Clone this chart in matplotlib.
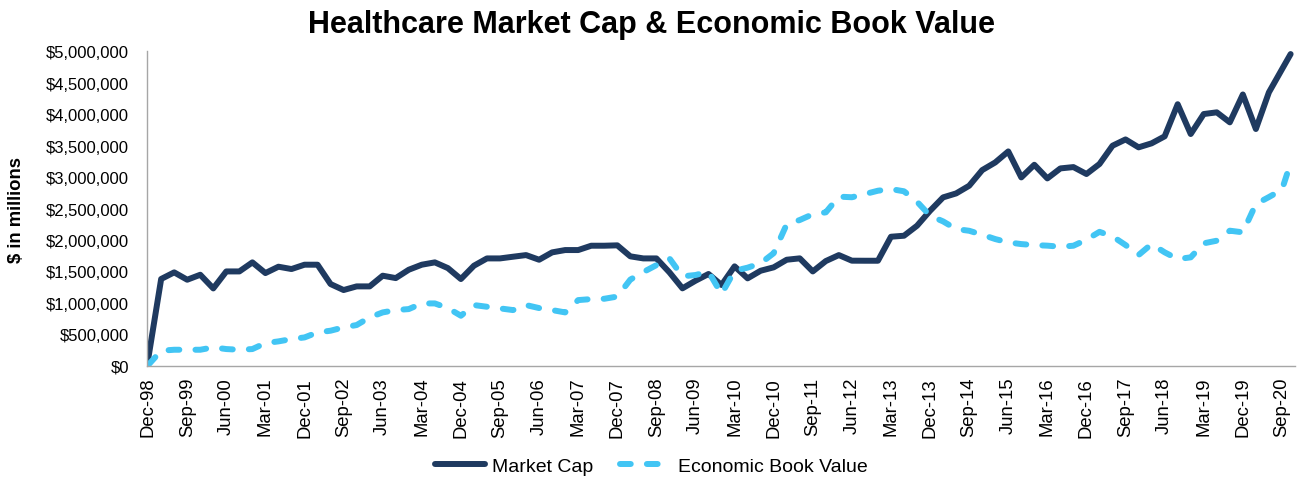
import matplotlib
matplotlib.use('Agg')
import matplotlib.pyplot as plt
from matplotlib.ticker import FuncFormatter

plt.rcParams['font.family'] = ['Liberation Sans', 'DejaVu Sans']

# $ in millions, quarterly from Dec-98 to Sep-20, plus the latest point (Nov-20)
market_cap = [100000, 1380000, 1485000, 1368000, 1447000, 1230000, 1500000, 1500000, 1644000, 1474000,
              1575000, 1538000, 1607000, 1607000, 1299000, 1204000, 1262000, 1262000, 1432000, 1394000,
              1527000, 1607000, 1644000, 1553000, 1379000, 1591000, 1707000, 1707000, 1734000, 1760000,
              1686000, 1803000, 1840000, 1840000, 1909000, 1909000, 1915000, 1740000, 1707000, 1707000,
              1486000, 1231000, 1352000, 1459000, 1284000, 1581000, 1390000, 1511000, 1565000, 1686000,
              1708000, 1500000, 1665000, 1760000, 1671000, 1670000, 1670000, 2052000, 2068000, 2227000,
              2465000, 2678000, 2741000, 2863000, 3112000, 3234000, 3409000, 2996000, 3197000, 2980000,
              3139000, 3160000, 3050000, 3209000, 3500000, 3600000, 3474000, 3538000, 3649000, 4160000,
              3686000, 4004000, 4031000, 3872000, 4315000, 3766000, 4349000, 4715000,
              4958000]

economic_book_value = [10000, 239000, 254000, 254000, 254000, 292000, 265000, 254000, 265000, 360000,
                       387000, 424000, 450000, 530000, 557000, 610000, 647000, 769000, 848000, 885000,
                       901000, 991000, 991000, 917000, 795000, 965000, 938000, 912000, 885000, 965000,
                       917000, 885000, 848000, 1044000, 1060000, 1065000, 1100000, 1370000, 1490000, 1600000,
                       1708000, 1422000, 1443000, 1496000, 1141000, 1511000, 1560000, 1630000, 1790000, 2250000,
                       2318000, 2410000, 2440000, 2690000, 2680000, 2731000, 2784000, 2810000, 2775000, 2609000,
                       2386000, 2296000, 2174000, 2147000, 2084000, 2015000, 1962000, 1935000, 1919000, 1910000,
                       1893000, 1909000, 2005000, 2130000, 2058000, 1920000, 1761000, 1936000, 1804000, 1697000,
                       1724000, 1947000, 1989000, 2148000, 2122000, 2572000, 2683000, 2800000,
                       3225000]

# months after Dec-98 (date axis)
months = [3 * q for q in range(88)] + [263]

tick_labels = ['Dec-98', 'Sep-99', 'Jun-00', 'Mar-01', 'Dec-01', 'Sep-02', 'Jun-03', 'Mar-04',
               'Dec-04', 'Sep-05', 'Jun-06', 'Mar-07', 'Dec-07', 'Sep-08', 'Jun-09', 'Mar-10',
               'Dec-10', 'Sep-11', 'Jun-12', 'Mar-13', 'Dec-13', 'Sep-14', 'Jun-15', 'Mar-16',
               'Dec-16', 'Sep-17', 'Jun-18', 'Mar-19', 'Dec-19', 'Sep-20']

fig = plt.figure(figsize=(13.02, 4.81), dpi=100)
ax = fig.add_axes([0.1131, 0.2376, 0.8815, 0.6534])

ax.plot(months, market_cap, color='#1f3a60', lw=4.3, solid_joinstyle='round',
        solid_capstyle='round', label='Market Cap')
ax.plot(months, economic_book_value, color='#42c5f4', lw=4.3, dashes=(1.8, 2.7),
        dash_capstyle='round', dash_joinstyle='round', label='Economic Book Value')

ax.set_xlim(-0.2, 264)
ax.set_ylim(0, 5000000)
ax.set_yticks(range(0, 5000001, 500000))
ax.yaxis.set_major_formatter(FuncFormatter(lambda v, p: '${:,.0f}'.format(v)))
ax.set_xticks([9 * i for i in range(len(tick_labels))])
ax.set_xticklabels(tick_labels, rotation=90)

ax.tick_params(axis='y', length=0, pad=13, labelsize=12)
ax.tick_params(axis='x', length=0, pad=8, labelsize=13.3)
for s in ['top', 'right']:
    ax.spines[s].set_visible(False)
for s in ['left', 'bottom']:
    ax.spines[s].set_color('#a6a6a6')
    ax.spines[s].set_linewidth(1)

fig.text(0.5, 1 - 33 / 481, 'Healthcare Market Cap & Economic Book Value',
         ha='center', va='baseline', fontsize=22, fontweight='bold')
fig.text(17 / 1302, 1 - 210 / 481, '$ in millions', rotation=90,
         ha='center', va='center', fontsize=13.3, fontweight='bold')

fig.legend(loc='center', bbox_to_anchor=(0.5, 1 - 467 / 481), ncol=2, frameon=False,
           fontsize=14, handlelength=2.6, handletextpad=0.35, columnspacing=1.4)

fig.savefig('out.png', dpi=100)
